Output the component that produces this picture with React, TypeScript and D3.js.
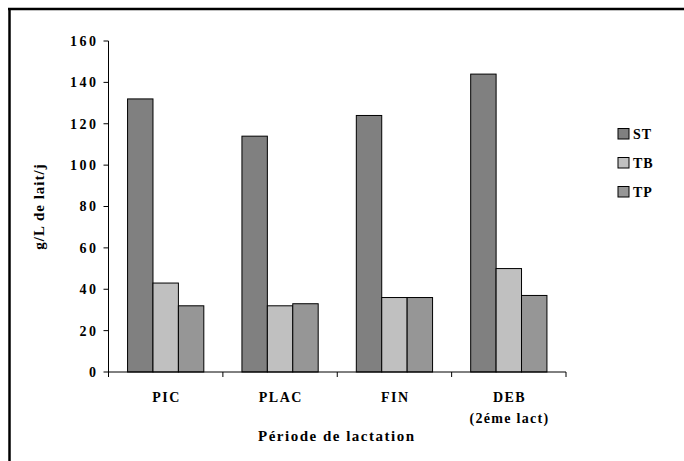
import React from "react";
import * as d3 from "d3";

const categories = ["PIC", "PLAC", "FIN", "DEB"];
const categorySubLabels = ["", "", "", "(2éme lact)"];
const seriesNames = ["ST", "TB", "TP"];
const stValues = [132, 114, 124, 144];
const tbValues = [43, 32, 36, 50];
const tpValues = [32, 33, 36, 37];
const yTicks = [0, 20, 40, 60, 80, 100, 120, 140, 160];
const seriesColors = ["#808080", "#c0c0c0", "#969696"];

const W = 684;
const H = 461;
const FONT = "'Liberation Serif', 'Times New Roman', Times, serif";

export default function App() {
  const plotLeft = 108.5;
  const plotRight = 566;
  const plotTop = 41;
  const plotBottom = 372;

  const x = d3
    .scaleBand<string>()
    .domain(categories)
    .range([plotLeft, plotRight])
    .paddingInner(1 / 3)
    .paddingOuter(1 / 6);
  const xSub = d3
    .scaleBand<string>()
    .domain(seriesNames)
    .range([0, x.bandwidth()]);
  const y = d3.scaleLinear().domain([0, 160]).range([plotBottom, plotTop]);

  const allSeries = [stValues, tbValues, tpValues];
  const step = (plotRight - plotLeft) / categories.length;
  const boundaries = d3.range(categories.length + 1).map((i) => plotLeft + i * step);
  const txt = { fontFamily: FONT, fontWeight: 700 as const };

  return (
    <svg
      width={W}
      height={H}
      style={{ position: "absolute", left: 0, top: 0, background: "#fff", fontFamily: FONT }}
    >
      <rect x={0} y={0} width={W} height={H} fill="#fff" />
      {/* outer frame (top & left) */}
      <line x1={8} y1={9} x2={W} y2={9} stroke="#000" strokeWidth={2.5} />
      <line x1={9.5} y1={8} x2={9.5} y2={H} stroke="#000" strokeWidth={2.5} />

      {/* bars */}
      {categories.map((c, ci) =>
        seriesNames.map((s, si) => {
          const v = allSeries[si][ci];
          const bx = (x(c) as number) + (xSub(s) as number);
          return (
            <rect
              key={c + s}
              x={bx}
              y={y(v)}
              width={xSub.bandwidth()}
              height={y(0) - y(v)}
              fill={seriesColors[si]}
              stroke="#000"
              strokeWidth={1}
            />
          );
        })
      )}

      {/* y axis */}
      <line x1={plotLeft} y1={plotTop} x2={plotLeft} y2={plotBottom} stroke="#000" strokeWidth={1} />
      {yTicks.map((t) => (
        <g key={t}>
          <line x1={plotLeft - 5} x2={plotLeft} y1={y(t)} y2={y(t)} stroke="#000" />
          <text
            x={98.5}
            y={y(t)}
            dy="0.35em"
            textAnchor="end"
            fontSize={14}
            letterSpacing={2.5}
            style={txt}
          >
            {t}
          </text>
        </g>
      ))}

      {/* x axis */}
      <line x1={plotLeft} y1={plotBottom} x2={plotRight} y2={plotBottom} stroke="#000" strokeWidth={1} />
      {boundaries.map((b, i) => (
        <line key={i} x1={b} x2={b} y1={plotBottom} y2={plotBottom + 5} stroke="#000" />
      ))}
      {categories.map((c, ci) => {
        const cx = (x(c) as number) + x.bandwidth() / 2;
        return (
          <g key={c}>
            <text x={cx + 0.75} y={402} textAnchor="middle" fontSize={14} letterSpacing={1.5} style={txt}>
              {c}
            </text>
            {categorySubLabels[ci] && (
              <text x={cx + 0.65} y={423} textAnchor="middle" fontSize={14} letterSpacing={1.3} style={txt}>
                {categorySubLabels[ci]}
              </text>
            )}
          </g>
        );
      })}

      {/* axis titles */}
      <text x={336.75} y={441} textAnchor="middle" fontSize={15} letterSpacing={1.5} style={txt}>
        Période de lactation
      </text>
      <text
        transform={`translate(44, ${(plotTop + plotBottom) / 2}) rotate(-90)`}
        textAnchor="middle"
        fontSize={15}
        letterSpacing={1}
        style={txt}
      >
        g/L de lait/j
      </text>

      {/* legend */}
      {seriesNames.map((s, si) => (
        <g key={s} transform={`translate(618, ${128.5 + si * 29})`}>
          <rect x={0} y={0} width={11} height={10.5} fill={seriesColors[si]} stroke="#000" strokeWidth={1} />
          <text x={15} y={5.5} dy="0.35em" fontSize={14} letterSpacing={1} style={txt}>
            {s}
          </text>
        </g>
      ))}
    </svg>
  );
}
